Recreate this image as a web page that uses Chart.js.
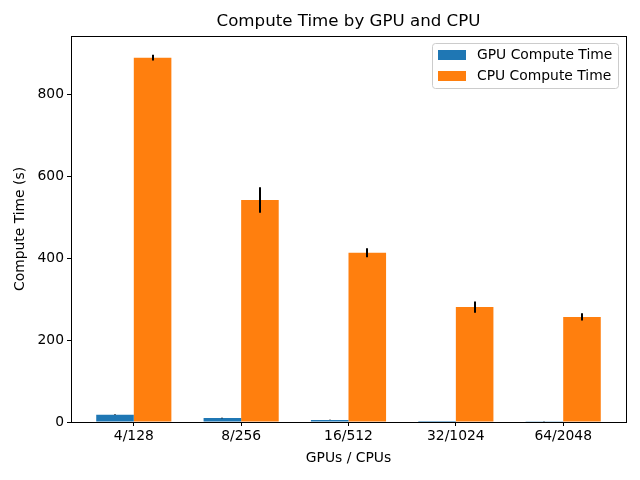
<!DOCTYPE html>
<html><head><meta charset="utf-8">
<script src="https://cdn.jsdelivr.net/npm/chart.js@4.4.1/dist/chart.umd.min.js"></script>
<style>html,body{margin:0;padding:0;background:#fff}#wrap{width:640px;height:480px}</style>
</head><body><div id="wrap"><canvas id="c" width="640" height="480"></canvas></div>
<script>
const categories = ['4/128','8/256','16/512','32/1024','64/2048'];
const gpuTimes = [18, 9.8, 5, 2.5, 2];
const gpuErr = [0.6, 0.4, 0.3, 0.2, 0.2];
const cpuTimes = [891, 543, 414, 281, 257];
const cpuErr = [7, 31, 11, 14, 9];
const yTicks = [0, 200, 400, 600, 800];

const FONT = 'DejaVu Sans';
const F10 = 13.89;

const errorBars = {
  id: 'errorBars',
  afterDatasetsDraw(chart) {
    const ctx = chart.ctx, ys = chart.scales.y;
    const errs = [gpuErr, cpuErr];
    ctx.save();
    ctx.strokeStyle = '#000';
    ctx.lineWidth = 2;
    chart.data.datasets.forEach((ds, di) => {
      const meta = chart.getDatasetMeta(di);
      meta.data.forEach((bar, i) => {
        const v = ds.data[i].y, e = errs[di][i];
        const x = Math.round(bar.x);
        ctx.beginPath();
        ctx.moveTo(x, ys.getPixelForValue(v + e));
        ctx.lineTo(x, ys.getPixelForValue(v - e));
        ctx.stroke();
      });
    });
    ctx.restore();
  }
};

const frameAndLegend = {
  id: 'frameAndLegend',
  afterDraw(chart) {
    const ctx = chart.ctx, a = chart.chartArea;
    ctx.save();
    ctx.strokeStyle = '#000';
    ctx.lineWidth = 1;
    ctx.strokeRect(Math.round(a.left) + 0.5, Math.round(a.top) + 0.5, Math.round(a.right - a.left), Math.round(a.bottom - a.top));
    // title
    ctx.fillStyle = '#000';
    ctx.font = '16.67px ' + FONT;
    ctx.textAlign = 'center';
    ctx.textBaseline = 'middle';
    ctx.fillText('Compute Time by GPU and CPU', (a.left + a.right) / 2, 22);
    // legend
    const lx = 432.5, ly = 43.5, lw = 186, lh = 45, r = 3;
    ctx.beginPath();
    ctx.moveTo(lx + r, ly);
    ctx.arcTo(lx + lw, ly, lx + lw, ly + lh, r);
    ctx.arcTo(lx + lw, ly + lh, lx, ly + lh, r);
    ctx.arcTo(lx, ly + lh, lx, ly, r);
    ctx.arcTo(lx, ly, lx + lw, ly, r);
    ctx.closePath();
    ctx.fillStyle = 'rgba(255,255,255,0.8)';
    ctx.fill();
    ctx.strokeStyle = '#cccccc';
    ctx.stroke();
    const items = chart.data.datasets;
    ctx.font = F10 + 'px ' + FONT;
    ctx.textAlign = 'left';
    items.forEach((ds, i) => {
      const yy = 50 + i * 21;
      ctx.fillStyle = ds.backgroundColor;
      ctx.fillRect(438, yy, 28, 10);
      ctx.fillStyle = '#000';
      ctx.fillText(ds.label, 477, yy + 5.5);
    });
    ctx.restore();
  }
};

new Chart(document.getElementById('c'), {
  type: 'bar',
  data: {
    datasets: [
      { label: 'GPU Compute Time', data: gpuTimes.map((v, i) => ({x: i, y: v})), backgroundColor: '#1f77b4' },
      { label: 'CPU Compute Time', data: cpuTimes.map((v, i) => ({x: i, y: v})), backgroundColor: '#ff7f0e' }
    ]
  },
  plugins: [errorBars, frameAndLegend],
  options: {
    responsive: false,
    animation: false,
    devicePixelRatio: 1,
    layout: { padding: { top: 36, right: 14, left: 0, bottom: 0 } },
    categoryPercentage: 0.7,
    barPercentage: 1.0,
    plugins: { legend: { display: false }, title: { display: false }, tooltip: { enabled: false } },
    scales: {
      x: {
        type: 'linear',
        min: -0.585,
        max: 4.585,
        offset: false,
        afterBuildTicks(s) { s.ticks = categories.map((_, i) => ({ value: i })); },
        afterFit(s) { s.height = 58; },
        ticks: { callback: (v) => categories[v] ?? '', color: '#000', font: { family: FONT, size: F10 }, padding: 2, maxRotation: 0, autoSkip: false },
        grid: { offset: false, drawOnChartArea: false, drawTicks: true, tickLength: 4, color: '#000' },
        border: { display: true, color: '#000' },
        title: { display: true, text: 'GPUs / CPUs', color: '#000', font: { family: FONT, size: F10 }, padding: { top: 4, bottom: 13 } }
      },
      y: {
        min: 0,
        max: 944,
        afterBuildTicks(s) { s.ticks = yTicks.map(v => ({ value: v })); },
        afterFit(s) { s.width = 71; },
        ticks: { color: '#000', font: { family: FONT, size: F10 }, padding: 3 },
        grid: { drawOnChartArea: false, drawTicks: true, tickLength: 4, color: '#000' },
        border: { display: true, color: '#000' },
        title: { display: true, text: 'Compute Time (s)', color: '#000', font: { family: FONT, size: F10 }, padding: { top: 12, bottom: 4 } }
      }
    }
  }
});
</script></body></html>
